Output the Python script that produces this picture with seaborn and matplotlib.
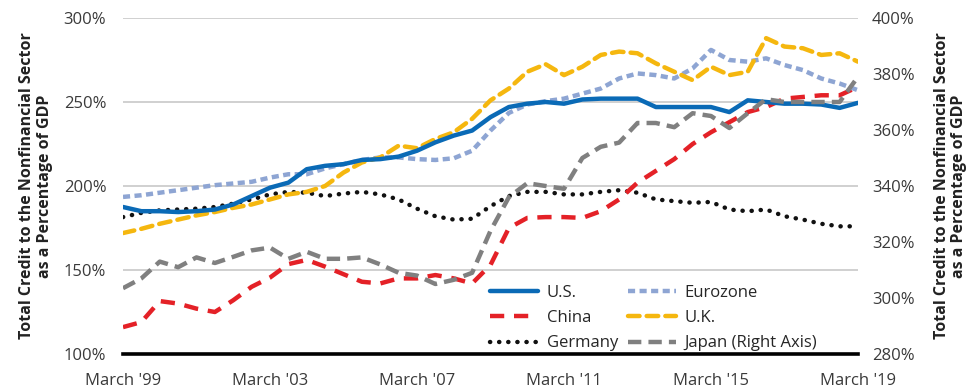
import numpy as np
import pandas as pd
import matplotlib
matplotlib.use("Agg")
import matplotlib.pyplot as plt
import seaborn as sns
from matplotlib.lines import Line2D

# Half-yearly observation points (decimal years, March 1999 .. March 2019)
dates = [1999.25 + 0.5 * i for i in range(41)]

us = [187.5, 185, 185, 184.5, 185, 186, 189, 194, 199, 202,
      210, 212, 213, 215.5, 216, 217.5, 221, 226, 230, 233,
      241, 247, 249, 250, 249, 251.5, 252, 252, 252, 247,
      247, 247, 247, 244, 251, 250, 249, 249, 248.5, 246.5, 249.5]

eurozone = [193.5, 194.5, 196, 197.5, 199, 200.5, 201.5, 202.5, 205, 207,
            207, 210.5, 213, 215.5, 217, 217, 216, 215.5, 216.5, 221,
            233, 243.5, 248.5, 250.5, 252, 255, 258, 264, 267, 266,
            264, 270, 281, 275, 274, 276, 272, 269, 264, 261, 257]

uk = [172, 174.5, 177.5, 180, 182.5, 184.5, 187, 189, 192, 195,
      196.5, 200, 208, 214, 217, 224, 222.5, 228, 232, 240,
      251, 258, 268, 272.5, 266, 271, 278, 280, 279, 273,
      268, 263, 271, 266, 268, 288, 283, 282, 278, 279, 274]

germany = [181.5, 184, 185.5, 186, 186.5, 187.5, 189.5, 192, 195, 196.5,
           196, 194, 195.5, 196.5, 195, 192, 186.5, 182, 180, 180.5,
           188, 194, 196.5, 196.5, 195, 195, 196.5, 197.5, 196, 192,
           191, 190, 190.5, 186, 185, 186, 182, 180, 177.5, 176, 176]

china = [116, 119, 131.5, 130, 127, 125, 132, 140, 145.5, 153.5,
         156, 152, 147.5, 143, 142, 145, 145, 147, 145, 142,
         153, 175, 181, 181.5, 181.5, 181, 185, 192, 202, 209,
         216, 225, 232, 238, 244, 247, 252, 253, 254, 254, 259]

japan = [303.5, 307, 313, 311, 314.5, 312.5, 314.7, 317, 318, 314,
         316.5, 314, 314, 314.5, 312, 309, 308, 305, 306.5, 309,
         324, 336, 341, 340, 339, 350, 354, 355.5, 362.5, 362.5,
         361, 366, 365, 360.7, 366, 371, 370, 370, 370, 370, 379]

xtick_pos = [1999.25, 2003.25, 2007.25, 2011.25, 2015.25, 2019.25]
xtick_labels = ["March '99", "March '03", "March '07", "March '11", "March '15", "March '19"]
left_ticks = [100, 150, 200, 250, 300]
right_ticks = [280, 300, 320, 340, 360, 380, 400]
ylabel = "Total Credit to the Nonfinancial Sector\nas a Percentage of GDP"

sns.set_theme(style="white")
plt.rcParams['font.family'] = ['Open Sans', 'DejaVu Sans']

fig = plt.figure(figsize=(9.71, 3.92), dpi=100)
ax = fig.add_axes([123 / 971, 1 - 354 / 392, (858 - 123) / 971, (354 - 18) / 392])
ax2 = ax.twinx()

df = pd.DataFrame({"date": dates, "U.S.": us, "Eurozone": eurozone, "U.K.": uk,
                   "Germany": germany, "China": china, "Japan": japan})

c_us = "#0a6ab6"
c_eu = "#8ea5d3"
c_uk = "#f5b70f"
c_de = "#111111"
c_cn = "#e42127"
c_jp = "#808080"
lw = 3.2

# left-axis series
sns.lineplot(data=df, x="date", y="Germany", ax=ax, color=c_de, lw=lw,
             linestyle=(0, (0.05, 2.0)), dash_capstyle="round", zorder=3)
sns.lineplot(data=df, x="date", y="China", ax=ax, color=c_cn, lw=lw,
             linestyle=(0, (3.2, 2.2)), zorder=3)
sns.lineplot(data=df, x="date", y="Eurozone", ax=ax, color=c_eu, lw=lw,
             linestyle=(0, (1.6, 1.0)), zorder=3)
sns.lineplot(data=df, x="date", y="U.K.", ax=ax, color=c_uk, lw=lw,
             linestyle=(0, (2.6, 1.6)), dash_capstyle="round", zorder=3)
sns.lineplot(data=df, x="date", y="U.S.", ax=ax, color=c_us, lw=lw, zorder=4)
# right-axis series
sns.lineplot(data=df, x="date", y="Japan", ax=ax2, color=c_jp, lw=lw,
             linestyle=(0, (3.0, 1.6)), zorder=3)

ax.set_xlim(1999.25, 2019.25)
ax.set_ylim(100, 300)
ax2.set_ylim(280, 400)
ax.set_yticks(left_ticks)
ax.set_yticklabels([f"{v}%" for v in left_ticks])
ax2.set_yticks(right_ticks)
ax2.set_yticklabels([f"{v}%" for v in right_ticks])
ax.set_xticks(xtick_pos)
ax.set_xticklabels(xtick_labels)

for a in (ax, ax2):
    for s in ("top", "left", "right"):
        a.spines[s].set_visible(False)
    a.tick_params(length=0, labelsize=12, colors="#3a3a3a")
ax2.spines["bottom"].set_visible(False)
ax.spines["bottom"].set_color("black")
ax.spines["bottom"].set_linewidth(2.6)
ax.spines["bottom"].set_zorder(5)

ax.grid(axis="y", color="#c8c8c8", lw=1.2)
ax.grid(axis="x", visible=False)
ax2.grid(False)
ax.set_axisbelow(True)
ax.tick_params(axis="y", pad=12)
ax.tick_params(axis="x", pad=14)
ax2.tick_params(axis="y", pad=10)

ax.set_xlabel("")
ax.set_ylabel(ylabel, fontsize=11.5, fontweight="bold", color="#222222", labelpad=8, linespacing=1.1)
ax2.set_ylabel(ylabel, fontsize=11.5, fontweight="bold", color="#222222", labelpad=14,
               rotation=90, linespacing=1.1)

handles = [
    Line2D([], [], color=c_us, lw=lw),
    Line2D([], [], color=c_cn, lw=lw, linestyle=(0, (3.2, 2.2))),
    Line2D([], [], color=c_de, lw=lw, linestyle=(0, (0.05, 2.0)), dash_capstyle="round"),
    Line2D([], [], color=c_eu, lw=lw, linestyle=(0, (1.6, 1.0))),
    Line2D([], [], color=c_uk, lw=lw, linestyle=(0, (2.6, 1.6)), dash_capstyle="round"),
    Line2D([], [], color=c_jp, lw=lw, linestyle=(0, (3.0, 1.6))),
]
labels = ["U.S.", "China", "Germany", "Eurozone", "U.K.", "Japan (Right Axis)"]
ax2.legend(handles, labels, ncol=2, frameon=False, fontsize=12,
           loc="upper left", bbox_to_anchor=((490 - 123) / 735, (354 - 285) / 336),
           handlelength=2.9, handletextpad=0.5, columnspacing=0.6,
           labelspacing=0.55, borderaxespad=0, borderpad=0)

fig.savefig("out.png", dpi=100)
